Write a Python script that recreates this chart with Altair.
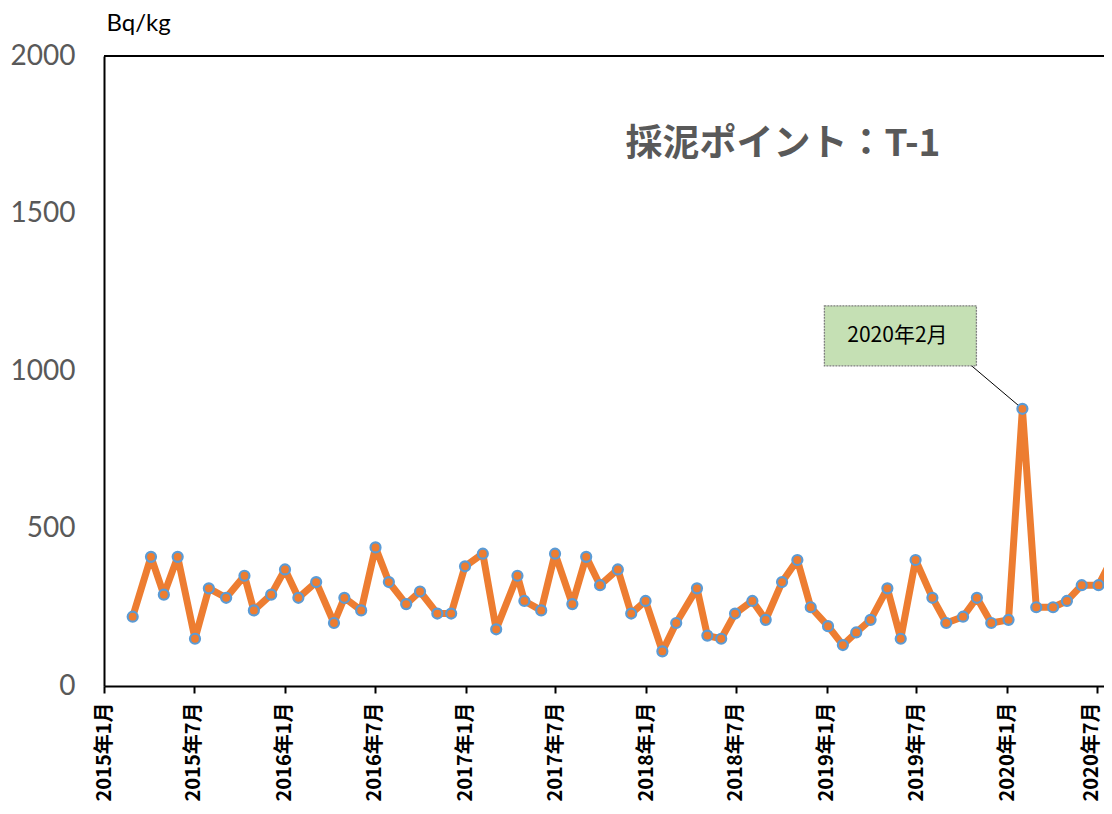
import altair as alt
import pandas as pd

# ---- data ----
dates = [
    "2015-02-28", "2015-04-06", "2015-05-02", "2015-05-30", "2015-07-04", "2015-08-01",
    "2015-09-05", "2015-10-12", "2015-10-31", "2015-12-05",
    "2016-01-02", "2016-01-29", "2016-03-05", "2016-04-10", "2016-05-01", "2016-06-04",
    "2016-07-03", "2016-07-30", "2016-09-03", "2016-10-01", "2016-11-05", "2016-12-03", "2016-12-31",
    "2017-02-05", "2017-03-04", "2017-04-16", "2017-04-30", "2017-06-03", "2017-07-01",
    "2017-08-05", "2017-09-02", "2017-09-30", "2017-11-05", "2017-12-02", "2017-12-31",
    "2018-02-03", "2018-03-03", "2018-04-14", "2018-05-05", "2018-06-02", "2018-06-30",
    "2018-08-04", "2018-08-31", "2018-10-03", "2018-11-03", "2018-11-30",
    "2019-01-04", "2019-02-03", "2019-03-02", "2019-03-31", "2019-05-04", "2019-05-31",
    "2019-06-30", "2019-08-03", "2019-08-31", "2019-10-04", "2019-11-01", "2019-11-30",
    "2020-01-04", "2020-02-01", "2020-02-29", "2020-04-03", "2020-05-01", "2020-05-31",
    "2020-07-04", "2020-07-30",
]
values = [
    220, 410, 290, 410, 150, 310, 280, 350, 240, 290,
    370, 280, 330, 200, 280, 240, 440, 330, 260, 300, 230, 230, 380,
    420, 180, 350, 270, 240, 420, 260, 410, 320, 370, 230, 270,
    110, 200, 310, 160, 150, 230, 270, 210, 330, 400, 250,
    190, 130, 170, 210, 310, 150, 400, 280, 200, 220, 280, 200,
    210, 880, 250, 250, 270, 320, 320, 400,
]
y_ticks = [0, 500, 1000, 1500, 2000]
x_tick_months = [(2015, 1), (2015, 7), (2016, 1), (2016, 7), (2017, 1), (2017, 7),
                 (2018, 1), (2018, 7), (2019, 1), (2019, 7), (2020, 1), (2020, 7)]
ann_dates = ["2020-02-01"]
ann_values = [880]
ann_labels = ["2020年2月"]
chart_title = "採泥ポイント：T-1"
y_unit = "Bq/kg"

df = pd.DataFrame({"date": dates, "value": values})
ann = pd.DataFrame({"date": ann_dates, "value": ann_values, "label": ann_labels})

W, H = 1000, 630

x_scale = alt.Scale(
    type="utc",
    domain=[alt.DateTime(year=2015, month=1, date=1, utc=True),
            alt.DateTime(year=2020, month=7, date=15, utc=True)],
)
y_scale = alt.Scale(domain=[0, 2000])

x_axis = alt.Axis(
    values=[alt.DateTime(year=y, month=m, date=1, utc=True) for y, m in x_tick_months],
    labelExpr="utcFormat(datum.value, '%Y年%-m月')",
    labelAngle=270, labelFont="Noto Sans CJK JP", labelFontWeight="bold",
    labelFontSize=20, labelColor="black", labelPadding=9,
    labelFlush=False, labelOverlap=False,
    # keep the last label (at the cut right edge) inside the page
    labelOffset={"condition": {"test": "utcyear(datum.value) == 2020 && utcmonth(datum.value) == 6",
                               "value": -6}, "value": 0},
    tickColor="black", tickWidth=2, tickSize=7,
    domainColor="black", domainWidth=2, grid=False, title=None,
)
y_axis = alt.Axis(
    values=y_ticks, format="d", ticks=False, grid=False,
    domainColor="black", domainWidth=2,
    labelFont="Lato", labelFontSize=28, labelColor="#595959", labelPadding=29,
    labelFlush=False,
    title=y_unit, titleAngle=0, titleX=2, titleY=-26, titleAlign="left",
    titleBaseline="alphabetic", titleFont="Lato", titleFontSize=24,
    titleFontWeight="normal", titleColor="black",
)

X = alt.X("date:T", scale=x_scale, axis=x_axis)
Y = alt.Y("value:Q", scale=y_scale, axis=y_axis)

border = alt.Chart(pd.DataFrame({"a": [0]})).mark_rule(
    color="black", strokeWidth=2
).encode(x=alt.value(0), x2=alt.value(W + 10), y=alt.value(0))

line = alt.Chart(df).mark_line(
    color="#ED7D31", strokeWidth=7, strokeJoin="round", strokeCap="round", clip=False
).encode(x=X, y=Y)

points = alt.Chart(df).mark_point(
    shape="circle", filled=True, fill="#ED7D31", stroke="#5B9BD5",
    strokeWidth=2.2, size=100, opacity=1, clip=False
).encode(x="date:T", y="value:Q")

ann_line = alt.Chart(ann).mark_rule(
    color="black", strokeWidth=1, x2Offset=-52, y2Offset=-44
).encode(x="date:T", y="value:Q", x2="date:T", y2="value:Q")

ann_box = alt.Chart(ann).mark_rect(
    fill="#C5E0B4", stroke="#7F7F7F", strokeWidth=1.3, strokeDash=[2, 1],
    xOffset=-198, x2Offset=-46, yOffset=-103, y2Offset=-43
).encode(x="date:T", x2="date:T", y="value:Q", y2="value:Q")

ann_text = alt.Chart(ann).mark_text(
    font="Noto Sans CJK JP", fontSize=21, color="black",
    dx=-125, dy=-73, align="center", baseline="middle"
).encode(x="date:T", y="value:Q", text="label:N")

title_text = alt.Chart(pd.DataFrame({"t": [chart_title]})).mark_text(
    font="Noto Sans CJK JP", fontSize=37, fontWeight="bold", color="#595959",
    align="center", baseline="middle"
).encode(x=alt.value(679), y=alt.value(89), text="t:N")

chart = alt.layer(
    border, ann_line, line, points, ann_box, ann_text, title_text
).properties(
    width=W, height=H,
    autosize=alt.AutoSizeParams(type="none"),
    padding={"left": 96, "top": 48, "right": 0, "bottom": 118},
).configure_view(stroke=None)

chart.save("out.html", embed_options={"renderer": "svg", "actions": False})
